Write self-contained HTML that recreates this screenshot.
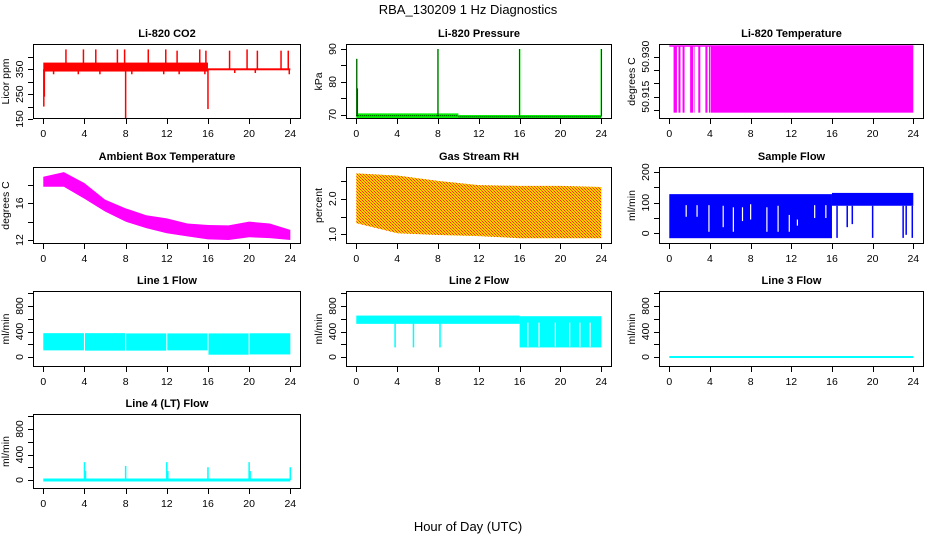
<!DOCTYPE html>
<html><head><meta charset="utf-8"><style>
html,body{margin:0;padding:0;background:#fff;}
svg{display:block;font-family:"Liberation Sans",Arial,sans-serif;}
</style></head><body>
<svg id="chart" width="936" height="540" viewBox="0 0 936 540" xmlns="http://www.w3.org/2000/svg">
<defs>
<pattern id="rhpat" width="3" height="3" patternUnits="userSpaceOnUse">
<rect width="3" height="3" fill="#FFD000"/><rect x="0" y="0" width="1" height="1" fill="#FF3000"/><rect x="1" y="1" width="1" height="1" fill="#FF6000"/><rect x="2" y="2" width="1" height="1" fill="#FF3000"/>
</pattern>
</defs>
<text x="468" y="14" text-anchor="middle" font-size="13">RBA_130209  1 Hz Diagnostics</text>
<text x="468" y="531" text-anchor="middle" font-size="13">Hour of Day (UTC)</text>
</svg>
<script>
// ---------- data ----------
const xTicks = [0,4,8,12,16,20,24];
const hours2 = [0,2,4,6,8,10,12,14,16,18,20,22,24];
const hours4 = [0,4,8,12,16,20,24];

// CO2
const co2SegStart = [0,16];
const co2SegEnd = [16,24];
const co2Lo = [341,346];
const co2Hi = [377,354];
const co2SpikeX = [2.2,3.9,5.1,7.2,7.9,10.2,11.9,13.0,15.2,15.8,18.1,19.8,20.8,23.1,23.8,0.05,8.0,16.0,0.1,1.0,3.4,5.5,8.6,11.7,13.2,15.7,18.6,20.6,23.9];
const co2SpikeY = [430,430,430,430,430,430,430,425,430,425,425,430,425,425,425,200,150,190,240,330,330,330,330,330,330,330,335,335,330];
const co2Ticks = [150,200,250,300,350,400];
const co2Labels = [150,250,350];

// Pressure
const presSegStart = [0,10];
const presSegEnd = [10,24];
const presLo = [69.0,68.8];
const presHi = [70.4,69.9];
const presSpikeX = [0.05,0.1,8.0,16.0,24.0];
const presSpikeY = [87,78,90,90,90];
const presTicks = [70,75,80,85,90];
const presLabels = [70,80,90];

// Li-820 temperature
const tempTop = 50.934;
const tempBot = 50.909;
const tempBarStart = [0.42,0.9,1.3,2.05,2.45,2.85,3.55,3.9,4.1];
const tempBarEnd = [0.75,1.1,1.5,2.35,2.5,3.05,3.75,4.05,24.0];
const tempTicks = [50.910,50.915,50.920,50.925,50.930];
const tempLabels = [50.915,50.930];

// Ambient box temperature
const ambLo = [17.8,17.8,16.5,15.1,14.0,13.3,12.73,12.4,12.07,12.0,12.3,12.2,12.0];
const ambHi = [18.9,19.4,18.2,16.4,15.45,14.7,14.36,13.8,13.64,13.6,14.0,13.8,13.1];
const ambTicks = [12,14,16,18];
const ambLabels = [12,16];

// Gas stream RH
const rhLo = [1.31,1.03,0.98,0.95,0.89,0.89,0.89];
const rhHi = [2.71,2.65,2.5,2.38,2.36,2.36,2.33];
const rhTicks = [1.0,1.5,2.0,2.5];
const rhLabels = [1.0,2.0];

// Sample flow
const sfSegStart = [0,16];
const sfSegEnd = [16,24];
const sfLo = [-16,90];
const sfHi = [128,132];
const sfGapX = [1.66,2.73,3.9,5.3,6.3,7.2,8.0,9.6,10.7,11.8,12.6,14.3,15.4];
const sfGapLo = [54,54,5,20,5,40,45,5,5,5,25,50,50];
const sfGapHi = [92,92,92,90,85,85,95,85,90,60,45,92,92];
const sfSpikeX = [16.5,17.5,18.0,20.0,23.0,23.3,23.9];
const sfSpikeY = [-15,20,30,-15,-15,-5,-15];
const sfTicks = [0,50,100,150,200];
const sfLabels = [0,100,200];

// Line 1 flow
const l1SegStart = [0,4.05,8.05,12.05,16.05,20.05];
const l1SegEnd = [3.95,7.95,11.95,15.95,19.95,24];
const l1Lo = [104,100,100,104,36,40];
const l1Hi = [374,374,370,370,370,372];

// Line 2 flow
const l2SegStart = [0,16];
const l2SegEnd = [16,24];
const l2Lo = [520,150];
const l2Hi = [650,640];
const l2GapX = [16.8,17.9,19.5,20.9,21.9,22.9];
const l2SpikeX = [3.8,5.6,8.2];
const l2SpikeY = [150,150,150];

// Line 4 flow
const l4SpikeX = [4.0,4.1,8.0,12.0,12.1,16.0,20.0,20.1,24.0];
const l4SpikeY = [280,140,220,280,140,200,280,140,200];

const flowTicks = [0,200,400,600,800,1000];
const flowLabels = [0,400,800];

// ---------- layout ----------
const svg = document.getElementById('chart');
const NS = 'http://www.w3.org/2000/svg';
const cols = [{l:33,r:301},{l:346,r:612},{l:659,r:924}];
const rows = [{t:44,b:119},{t:167,b:244},{t:291,b:367},{t:414,b:489}];

function el(tag, attrs, parent){
  const e = document.createElementNS(NS, tag);
  for (const k in attrs) e.setAttribute(k, attrs[k]);
  (parent||svg).appendChild(e);
  return e;
}

function makePanel(name, title, ytitle, col, row, yv0, yp0, yv1, yp1, yTicks, yLabels, fmt){
  const c = cols[col], r = rows[row];
  const g = el('g', {});
  
  
  const x0 = c.l + 10.3, x1 = c.r - 10.7;
  const X = h => x0 + (x1 - x0) * h / 24;
  const Y = v => yp0 + (yp1 - yp0) * (v - yv0) / (yv1 - yv0);
  const clipId = 'clip-' + name;
  const cp = el('clipPath', {id: clipId}, g);
  el('rect', {x:c.l, y:r.t, width:c.r-c.l, height:r.b-r.t}, cp);
  const data = el('g', {'clip-path':'url(#'+clipId+')'}, g);
  
  
  const box = el('rect', {x:c.l+0.5, y:r.t+0.5, width:c.r-c.l-1, height:r.b-r.t-1, fill:'none', stroke:'#000', 'stroke-width':1}, g);
  
  
  const t = el('text', {x:(c.l+c.r)/2, y:r.t-7, 'text-anchor':'middle', 'font-size':11, 'font-weight':'bold'}, g);
  t.textContent = title;
  
  
  // x axis
  const xa = el('g', {}, g);
  
  
  el('line', {x1:X(0), x2:X(24), y1:r.b-0.5, y2:r.b-0.5, stroke:'#000'}, xa);
  xTicks.forEach(h => {
    el('line', {x1:Math.round(X(h))+0.5, x2:Math.round(X(h))+0.5, y1:r.b, y2:r.b+5, stroke:'#000'}, xa);
    const tl = el('text', {x:X(h), y:r.b+18, 'text-anchor':'middle', 'font-size':10.5}, xa);
    tl.textContent = h;
  });
  // y axis
  const ya = el('g', {}, g);
  
  
  yTicks.forEach(v => {
    el('line', {x1:c.l-5, x2:c.l, y1:Math.round(Y(v))+0.5, y2:Math.round(Y(v))+0.5, stroke:'#000'}, ya);
  });
  el('line', {x1:c.l+0.5, x2:c.l+0.5, y1:Y(yTicks[0]), y2:Y(yTicks[yTicks.length-1]), stroke:'#000'}, ya);
  yLabels.forEach(v => {
    const yy = Y(v), xx = c.l - 10;
    const tl = el('text', {x:xx, y:yy, 'text-anchor':'middle', 'font-size':10.5, transform:'rotate(-90 '+xx+' '+yy+')'}, ya);
    tl.textContent = fmt ? fmt(v) : v;
  });
  const xt = c.l - 24, yt = (r.t + r.b)/2;
  const at = el('text', {x:xt, y:yt, 'text-anchor':'middle', 'font-size':10.5, transform:'rotate(-90 '+xt+' '+yt+')'}, g);
  at.textContent = ytitle;
  
  
  return {g: data, X, Y};
}

function band(p, xs, lo, hi, fill, name){
  let d = 'M' + xs.map((h,i)=>p.X(h)+','+p.Y(hi[i])).join(' L');
  d += ' L' + xs.slice().reverse().map((h,i)=>p.X(h)+','+p.Y(lo[lo.length-1-i])).join(' L') + ' Z';
  const e = el('path', {d, fill, stroke:'none'}, p.g);
  
  
}
function segs(p, s, e2, lo, hi, fill, name){
  s.forEach((h,i)=>{
    const r = el('rect', {x:p.X(h), y:p.Y(hi[i]), width:p.X(e2[i])-p.X(h), height:p.Y(lo[i])-p.Y(hi[i]), fill}, p.g);
    
    
  });
}
function spikes(p, xs, ys, base, color, w, name){
  xs.forEach((h,i)=>{
    const l = el('line', {x1:p.X(h), x2:p.X(h), y1:p.Y(base), y2:p.Y(ys[i]), stroke:color, 'stroke-width':w}, p.g);
    
    
  });
}

// CO2
let p = makePanel('co2','Li-820 CO2','Licor ppm',0,0,150,119,350,69.3,co2Ticks,co2Labels);
segs(p, co2SegStart, co2SegEnd, co2Lo, co2Hi, '#FF0000', 'co2-band');
spikes(p, co2SpikeX, co2SpikeY, 350, '#FF0000', 1.5, 'co2-spike');

// Pressure
p = makePanel('pressure','Li-820 Pressure','kPa',1,0,70,114.7,90,49,presTicks,presLabels);
segs(p, presSegStart, presSegEnd, presLo, presHi, '#00EE00', 'pressure-band');
spikes(p, presSpikeX, presSpikeY, 69.5, '#00DD00', 1.5, 'pressure-spike');
spikes(p, presSpikeX, presSpikeY, 69.5, '#000', 0.6, 'pressure-spike-dots');
presSegStart.forEach((h,i)=>{
  const l = el('line', {x1:p.X(h), x2:p.X(presSegEnd[i]), y1:p.Y((presLo[i]+presHi[i])/2), y2:p.Y((presLo[i]+presHi[i])/2), stroke:'#000', 'stroke-width':0.8, 'stroke-dasharray':'1 1'}, p.g);
  
  
});

// Li-820 temperature
p = makePanel('li820-temp','Li-820 Temperature','degrees C',2,0,50.910,110,50.930,56.7,tempTicks,tempLabels,v=>v.toFixed(3));
(function(){
  const l = el('line', {x1:p.X(0), x2:p.X(24), y1:p.Y(tempTop), y2:p.Y(tempTop), stroke:'#FF00FF', 'stroke-width':1.5}, p.g);
  
  
  const lo = tempBarStart.map(()=>tempBot), hi = tempBarStart.map(()=>tempTop);
  segs(p, tempBarStart, tempBarEnd, lo, hi, '#FF00FF', 'temp-bar');
})();

// Ambient
p = makePanel('ambient-temp','Ambient Box Temperature','degrees C',0,1,12,240,16,203.3,ambTicks,ambLabels);
band(p, hours2, ambLo, ambHi, '#FF00FF', 'ambient-band');

// RH
p = makePanel('rh','Gas Stream RH','percent',1,1,1.0,234.3,2.0,198.7,rhTicks,rhLabels,v=>v.toFixed(1));
band(p, hours4, rhLo, rhHi, 'url(#rhpat)', 'rh-band');

// Sample flow
p = makePanel('sample-flow','Sample Flow','ml/min',2,1,0,233.3,100,202.7,sfTicks,sfLabels);
segs(p, sfSegStart, sfSegEnd, sfLo, sfHi, '#0000FF', 'sample-flow-band');
sfGapX.forEach((h,i)=>{
  const l = el('line', {x1:p.X(h), x2:p.X(h), y1:p.Y(sfGapLo[i]), y2:p.Y(sfGapHi[i]), stroke:'#fff', 'stroke-width':1.2}, p.g);
  
  
});
spikes(p, sfSpikeX, sfSpikeY, 90, '#0000FF', 1.5, 'sample-flow-spike');

// Line 1
p = makePanel('line1-flow','Line 1 Flow','ml/min',0,2,0,357,400,331.5,flowTicks,flowLabels);
segs(p, l1SegStart, l1SegEnd, l1Lo, l1Hi, '#00FFFF', 'line1-band');

// Line 2
p = makePanel('line2-flow','Line 2 Flow','ml/min',1,2,0,357,400,331.5,flowTicks,flowLabels);
segs(p, l2SegStart, l2SegEnd, l2Lo, l2Hi, '#00FFFF', 'line2-band');
l2GapX.forEach(h=>{
  const l = el('line', {x1:p.X(h), x2:p.X(h), y1:p.Y(160), y2:p.Y(540), stroke:'#fff', 'stroke-width':1.2}, p.g);
  
  
});
spikes(p, l2SpikeX, l2SpikeY, 540, '#00FFFF', 1.5, 'line2-spike');

// Line 3
p = makePanel('line3-flow','Line 3 Flow','ml/min',2,2,0,357,400,331.5,flowTicks,flowLabels);
(function(){
  const l = el('line', {x1:p.X(0), x2:p.X(24), y1:p.Y(0), y2:p.Y(0), stroke:'#00FFFF', 'stroke-width':2}, p.g);
  
  
})();

// Line 4
p = makePanel('line4-flow','Line 4 (LT) Flow','ml/min',0,3,0,480,400,454.5,flowTicks,flowLabels);
(function(){
  const l = el('line', {x1:p.X(0), x2:p.X(24), y1:p.Y(0), y2:p.Y(0), stroke:'#00FFFF', 'stroke-width':3}, p.g);
  
  
})();
spikes(p, l4SpikeX, l4SpikeY, 0, '#00FFFF', 1.5, 'line4-spike');
</script>
</body></html>
